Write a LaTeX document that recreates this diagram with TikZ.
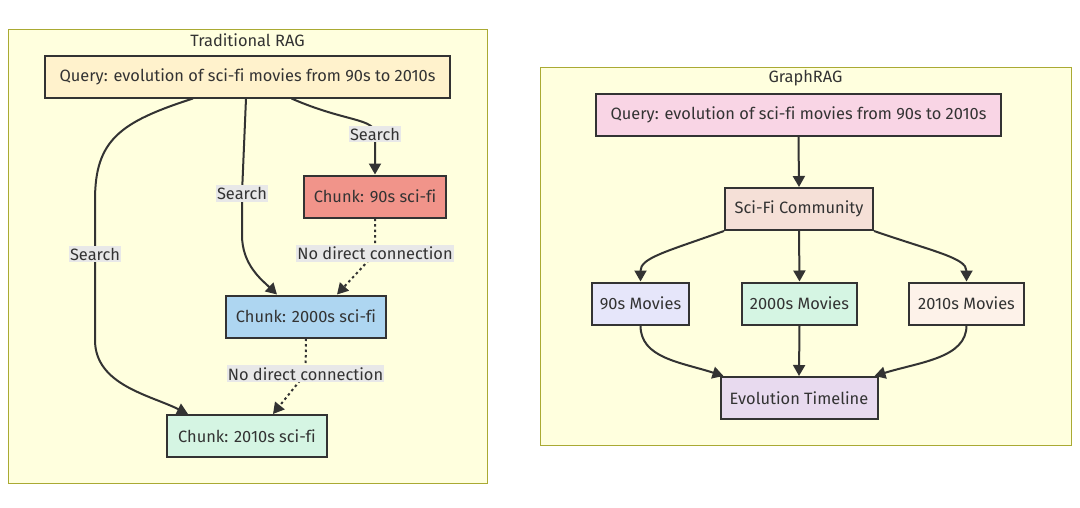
\documentclass[tikz,border=0pt]{standalone}
\usepackage{fontspec}
\setmainfont{Fira Sans}[Ligatures=NoCommon]
\usetikzlibrary{arrows.meta, positioning, calc}

\definecolor{ink}{HTML}{333333}
\definecolor{clfill}{HTML}{FFFFDE}
\definecolor{clline}{HTML}{AAAA33}
\definecolor{lblgray}{HTML}{E8E8E8}
\definecolor{qcream}{HTML}{FFF2CC}
\definecolor{salmon}{HTML}{F1948A}
\definecolor{sky}{HTML}{AED6F1}
\definecolor{mint}{HTML}{D5F5E3}
\definecolor{qpink}{HTML}{F9D5E5}
\definecolor{peach}{HTML}{F5E0D7}
\definecolor{lavender}{HTML}{E6E6FA}
\definecolor{cream}{HTML}{FDF2E9}
\definecolor{lilac}{HTML}{E8DAEF}

\begin{document}
\begin{tikzpicture}[x=1pt, y=-1pt,
    font=\fontsize{16.4}{19}\selectfont, text=ink,
    cluster/.style={fill=clfill, draw=clline, line width=1pt},
    box/.style={draw=ink, line width=2pt, minimum height=42pt, inner sep=0pt},
    lbl/.style={fill=lblgray, inner xsep=1pt, inner ysep=2pt},
    link/.style={draw=ink, line width=2pt, -{Triangle[length=11pt, width=12pt]}},
    nolink/.style={link, dash pattern=on 2.5pt off 3pt}]

    \useasboundingbox (0,0) rectangle (1080,507);
    \fill[white] (0,0) rectangle (1080,507);

    % Рамки
    \draw[cluster] (8,29) rectangle (487,483);
    \draw[cluster] (540,67) rectangle (1071,445);
    \node (tradtitle) at (247.5,40) {Traditional RAG};
    \node (graphtitle) at (805.5,78) {GraphRAG};

    % Traditional RAG
    \node[box, fill=qcream, minimum width=405pt] (ql) at (247.5,76.5) {Query: evolution of sci-fi movies from 90s to 2010s};
    \node[box, fill=salmon, minimum width=142pt] (c90) at (375,196.5) {Chunk: 90s sci-fi};
    \node[box, fill=sky, minimum width=160pt] (c00) at (306,316.5) {Chunk: 2000s sci-fi};
    \node[box, fill=mint, minimum width=160pt] (c10) at (247,436) {Chunk: 2010s sci-fi};

    \draw[link] ($(ql.south)+(44,0)$) .. controls (345,122) and (375,118) .. (375,134)
        node[lbl] (s90) {Search} -- (c90.north);
    \draw[link] ($(ql.south)+(-1.5,0)$) -- (242,193.5) node[lbl] (s00) {Search}
        -- (242,235) .. controls (242,265) and (262,280) .. ($(c00.north)+(-29,0)$);
    \draw[link] ($(ql.south)+(-54.5,0)$) .. controls (120,122) and (95,140) .. (95,200)
        -- (95,254) node[lbl] (s10) {Search}
        -- (95,340) .. controls (95,385) and (150,395) .. ($(c10.north)+(-59,0)$);
    \draw[nolink] (c90.south) -- (375,253.5) node[lbl] (n1) {No direct connection}
        -- ($(c00.north)+(31,0)$);
    \draw[nolink] (c00.south) -- (305.5,373.7) node[lbl] (n2) {No direct connection}
        -- ($(c10.north)+(26,0)$);

    % GraphRAG
    \node[box, fill=qpink, minimum width=405pt] (qg) at (798.5,114.5) {Query: evolution of sci-fi movies from 90s to 2010s};
    \node[box, fill=peach, minimum width=148pt] (sci) at (799,209) {Sci-Fi Community};
    \node[box, fill=lavender, minimum width=97pt] (m90) at (640.5,303.5) {90s Movies};
    \node[box, fill=mint, minimum width=115pt] (m00) at (799.5,303.5) {2000s Movies};
    \node[box, fill=cream, minimum width=115pt] (m10) at (966.5,303.5) {2010s Movies};
    \node[box, fill=lilac, minimum width=157pt] (evo) at (799,398) {Evolution Timeline};

    \draw[link] (qg.south) -- (sci.north);
    \draw[link] (sci.south west) .. controls (665,252) and (640.5,258) .. (m90.north);
    \draw[link] (sci.south) -- (m00.north);
    \draw[link] (sci.south east) .. controls (935,252) and (966.5,258) .. (m10.north);
    \draw[link] (m90.south) .. controls (640.5,358) and (680,362) .. ($(evo.north west)+(4,0)$);
    \draw[link] (m00.south) -- (evo.north);
    \draw[link] (m10.south) .. controls (966.5,358) and (920,362) .. ($(evo.north east)+(-4,0)$);
\end{tikzpicture}
\end{document}
